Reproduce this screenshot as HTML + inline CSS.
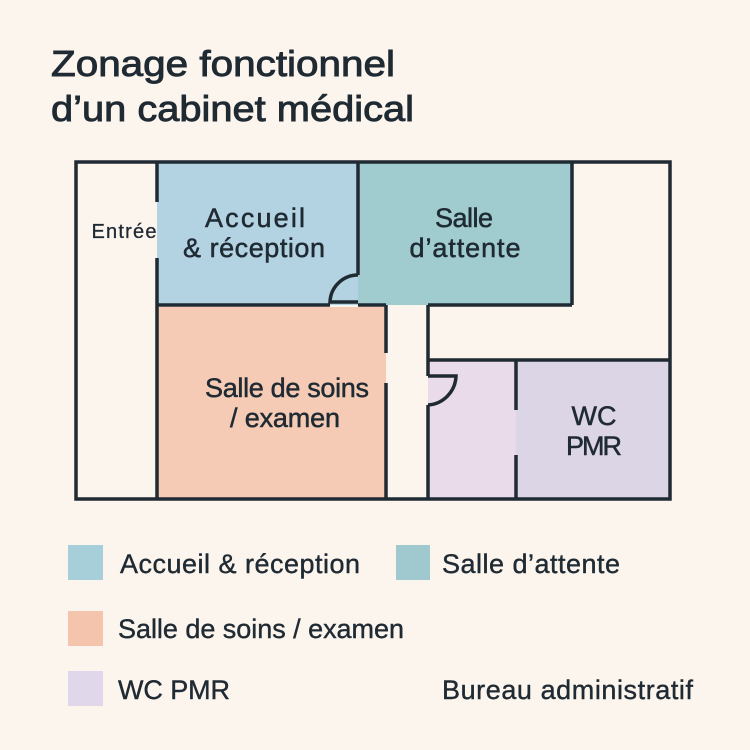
<!DOCTYPE html>
<html><head><meta charset="utf-8"><style>
body{margin:0;width:750px;height:750px;background:#fcf5ee;overflow:hidden;font-family:"Liberation Sans",sans-serif;color:#1f2a33}
</style></head><body>
<svg width="750" height="750" xmlns="http://www.w3.org/2000/svg" style="position:absolute;left:0;top:0">
<g fill="#1f2a33" stroke="#1f2a33" stroke-width="0.9">
<text x="51" y="76" font-size="36" textLength="344" lengthAdjust="spacingAndGlyphs">Zonage fonctionnel</text>
<text x="51" y="121" font-size="36" textLength="363" lengthAdjust="spacingAndGlyphs">d’un cabinet médical</text>
</g>
<rect x="157" y="162" width="201" height="143" fill="#b3d3e3"/>
<rect x="358" y="162" width="214" height="143" fill="#a0cbcf"/>
<rect x="157" y="307" width="229" height="192" fill="#f5cbb5"/>
<rect x="428" y="360" width="88" height="139" fill="#e9dbe9"/>
<rect x="516" y="360" width="154" height="139" fill="#dcd5e6"/>
<g stroke="#1f2a33" stroke-width="3.5" fill="none">
<rect x="76" y="162" width="594" height="337"/>
<line x1="157" y1="162" x2="157" y2="202"/>
<line x1="157" y1="258" x2="157" y2="499"/>
<line x1="358" y1="162" x2="358" y2="275"/>
<path d="M358 275 A28 28 0 0 0 330 302 L358 302"/>
<line x1="157" y1="305" x2="330" y2="305"/>
<line x1="358" y1="305" x2="386" y2="305"/>
<line x1="572" y1="162" x2="572" y2="305"/>
<line x1="428" y1="305" x2="572" y2="305"/>
<line x1="386" y1="305" x2="386" y2="353"/>
<line x1="386" y1="383" x2="386" y2="499"/>
<line x1="428" y1="305" x2="428" y2="376"/>
<path d="M428 376 L456 376 A30 30 0 0 1 428 405"/>
<line x1="428" y1="405" x2="428" y2="499"/>
<line x1="428" y1="360" x2="670" y2="360"/>
<line x1="516" y1="360" x2="516" y2="410"/>
<line x1="516" y1="455" x2="516" y2="499"/>
</g>
<g font-size="27" fill="#1f2a33" stroke="#1f2a33" stroke-width="0.5" text-anchor="middle" lengthAdjust="spacingAndGlyphs">
<text x="255" y="227" textLength="100">Accueil</text>
<text x="254" y="257" textLength="142">&amp; réception</text>
<text x="464" y="227" textLength="58">Salle</text>
<text x="465" y="257" textLength="111">d’attente</text>
<text x="287" y="397" textLength="164">Salle de soins</text>
<text x="285" y="427" textLength="110">/ examen</text>
<text x="594" y="425" textLength="45">WC</text>
<text x="594" y="455" textLength="56">PMR</text>
<text x="124" y="238" font-size="20" stroke-width="0.3" textLength="65">Entrée</text>
</g>
<rect x="68" y="545" width="35" height="35" fill="#a7cfd9"/>
<rect x="396" y="545" width="34" height="35" fill="#9fc9ce"/>
<rect x="68" y="611" width="35" height="35" fill="#f5c4ad"/>
<rect x="68" y="671" width="35" height="35" fill="#e0d7ea"/>
<g font-size="27" fill="#1f2a33" stroke="#1f2a33" stroke-width="0.4" lengthAdjust="spacingAndGlyphs">
<text x="120" y="573" textLength="240">Accueil &amp; réception</text>
<text x="442" y="573" textLength="178">Salle d’attente</text>
<text x="118" y="638" textLength="286">Salle de soins / examen</text>
<text x="118" y="699" textLength="112">WC PMR</text>
<text x="442" y="699" textLength="251">Bureau administratif</text>
</g>
</svg>
</body></html>
